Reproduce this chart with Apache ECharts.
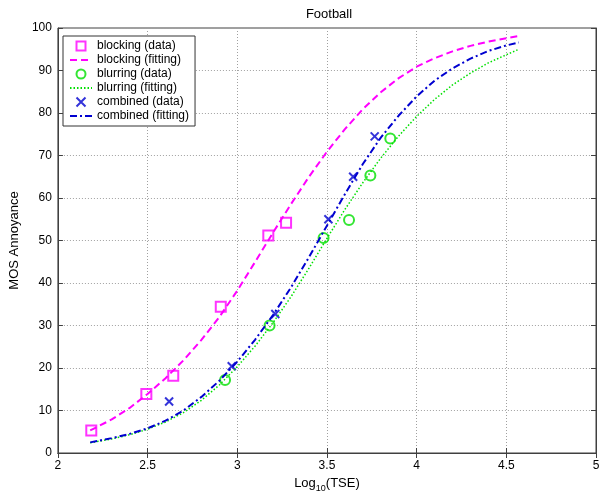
<!DOCTYPE html>
<html><head><meta charset="utf-8">
<script src="https://cdn.jsdelivr.net/npm/echarts@6/dist/echarts.min.js"></script>
<style>html,body{margin:0;padding:0;background:#fff}#c{width:606px;height:498px}</style>
</head><body><div id="c"></div>
<script>
// ---- data ----
const blockingDataX = [2.186, 2.493, 2.643, 2.908, 3.173, 3.272];
const blockingDataY = [5.3, 13.9, 18.2, 34.4, 51.2, 54.2];
const blurringDataX = [2.932, 3.180, 3.481, 3.623, 3.742, 3.853];
const blurringDataY = [17.2, 30.0, 50.6, 54.8, 65.3, 74.0];
const combinedDataX = [2.620, 2.969, 3.212, 3.508, 3.646, 3.766];
const combinedDataY = [12.1, 20.4, 32.7, 55.0, 65.0, 74.5];

const fitX = [2.18, 2.3, 2.4, 2.5, 2.6, 2.7, 2.8, 2.9, 3.0, 3.1, 3.2, 3.3, 3.4, 3.5, 3.6, 3.7, 3.8, 3.9, 4.0, 4.1, 4.2, 4.3, 4.4, 4.5, 4.57];
const blockingFit = [5.3, 7.9, 10.6, 13.9, 17.6, 21.8, 26.6, 32.0, 38.2, 45.0, 51.9, 58.6, 65.0, 70.9, 76.2, 80.9, 84.9, 88.2, 90.9, 92.9, 94.5, 95.8, 96.8, 97.6, 98.1];
const blurringFit = [2.4, 3.3, 4.3, 5.6, 7.3, 9.5, 12.4, 16.0, 20.3, 25.2, 30.7, 36.8, 43.5, 50.5, 57.3, 63.6, 69.4, 74.6, 79.2, 83.2, 86.6, 89.4, 91.8, 93.7, 95.0];
const combinedFit = [2.5, 3.5, 4.5, 5.8, 7.6, 10.0, 13.2, 17.0, 21.5, 26.7, 32.5, 39.0, 46.1, 53.5, 60.9, 68.0, 74.2, 79.4, 83.9, 87.6, 90.5, 92.8, 94.6, 95.9, 96.6];

const seriesNames = ['blocking (data)', 'blocking (fitting)', 'blurring (data)', 'blurring (fitting)', 'combined (data)', 'combined (fitting)'];
const titleText = 'Football';
const xName = 'Log{sub|10}(TSE)';
const yName = 'MOS Annoyance';

// ---- build ----
const pairs = (xs, ys) => xs.map((x, i) => [x, ys[i]]);
const MAG = '#ff00ff', GRN = '#00e000', BLU = '#0000d0';
const FONT = 'Liberation Sans, Arial, sans-serif';
const axisCol = '#404040';
const SQUARE = 'path://M0,0L10,0L10,10L0,10Z';
const CROSS = 'path://M0,0L10,10M10,0L0,10';

const chart = echarts.init(document.getElementById('c'), null, {renderer: 'canvas'});
const gridLine = {show: true, lineStyle: {color: '#a0a0a0', type: [1, 2], width: 1}};
const hideSym = {color: 'rgba(0,0,0,0)', borderWidth: 0, borderColor: 'rgba(0,0,0,0)'};
chart.setOption({
  backgroundColor: '#fff',
  animation: false,
  title: {text: titleText, left: 324, textAlign: 'center', top: 3,
    textStyle: {fontFamily: FONT, fontSize: 13, fontWeight: 'normal', color: '#000'}},
  grid: {left: 53, right: 10, top: 28, bottom: 45, show: true, borderColor: axisCol, borderWidth: 1},
  legend: {
    data: [
      {name: seriesNames[0]},
      {name: seriesNames[1], itemStyle: hideSym},
      {name: seriesNames[2]},
      {name: seriesNames[3], itemStyle: hideSym},
      {name: seriesNames[4]},
      {name: seriesNames[5], itemStyle: hideSym}
    ],
    orient: 'vertical', left: 63, top: 36,
    itemWidth: 22, itemHeight: 9, itemGap: 0,
    padding: [3, 6, 3, 6], borderColor: '#333', borderWidth: 1, backgroundColor: '#fff',
    textStyle: {fontFamily: FONT, fontSize: 12, color: '#000', lineHeight: 14}
  },
  xAxis: [{
    type: 'value', min: 2, max: 5, interval: 0.5,
    name: xName, nameLocation: 'middle', nameGap: 18,
    nameTextStyle: {fontFamily: FONT, fontSize: 13, color: '#000',
      rich: {sub: {fontFamily: FONT, fontSize: 9, color: '#000', verticalAlign: 'top', padding: [10, 0, 0, 0]}}},
    axisLine: {show: true, lineStyle: {color: axisCol}},
    axisTick: {show: true, inside: true, length: 5, lineStyle: {color: axisCol}},
    axisLabel: {fontFamily: FONT, fontSize: 12, color: '#000', margin: 7},
    splitLine: gridLine
  }, {
    type: 'value', min: 2, max: 5, interval: 0.5, position: 'top',
    axisLine: {show: true, lineStyle: {color: axisCol}},
    axisTick: {show: true, inside: true, length: 5, lineStyle: {color: axisCol}},
    axisLabel: {show: false}, splitLine: {show: false}
  }],
  yAxis: [{
    type: 'value', min: 0, max: 100, interval: 10,
    name: yName, nameLocation: 'middle', nameGap: 23,
    nameTextStyle: {fontFamily: FONT, fontSize: 13, color: '#000'},
    axisLine: {show: true, lineStyle: {color: axisCol}},
    axisTick: {show: true, inside: true, length: 5, lineStyle: {color: axisCol}},
    axisLabel: {fontFamily: FONT, fontSize: 12, color: '#000', margin: 6},
    splitLine: gridLine
  }, {
    type: 'value', min: 0, max: 100, interval: 10, position: 'right',
    axisLine: {show: true, lineStyle: {color: axisCol}},
    axisTick: {show: true, inside: true, length: 5, lineStyle: {color: axisCol}},
    axisLabel: {show: false}, splitLine: {show: false}
  }],
  series: [
    {name: seriesNames[1], type: 'line', symbol: 'none', smooth: false,
      data: pairs(fitX, blockingFit), itemStyle: {color: MAG},
      lineStyle: {color: MAG, width: 2, type: [7, 4]}},
    {name: seriesNames[3], type: 'line', symbol: 'none', smooth: false,
      data: pairs(fitX, blurringFit), itemStyle: {color: GRN},
      lineStyle: {color: GRN, width: 1.5, type: [1.5, 2]}},
    {name: seriesNames[5], type: 'line', symbol: 'none', smooth: false,
      data: pairs(fitX, combinedFit), itemStyle: {color: BLU},
      lineStyle: {color: BLU, width: 2, type: [7, 3, 2, 3]}},
    {name: seriesNames[0], type: 'scatter', symbol: SQUARE, symbolSize: 10, symbolKeepAspect: true,
      data: pairs(blockingDataX, blockingDataY),
      itemStyle: {color: 'rgba(0,0,0,0)', borderColor: MAG, borderWidth: 2}},
    {name: seriesNames[2], type: 'scatter', symbol: 'circle', symbolSize: 10,
      data: pairs(blurringDataX, blurringDataY),
      itemStyle: {color: 'rgba(0,0,0,0)', borderColor: GRN, borderWidth: 2}},
    {name: seriesNames[4], type: 'scatter', symbol: CROSS, symbolSize: 8, symbolKeepAspect: true,
      data: pairs(combinedDataX, combinedDataY),
      itemStyle: {color: 'rgba(0,0,0,0)', borderColor: BLU, borderWidth: 2}}
  ]
});
</script>
</body></html>
